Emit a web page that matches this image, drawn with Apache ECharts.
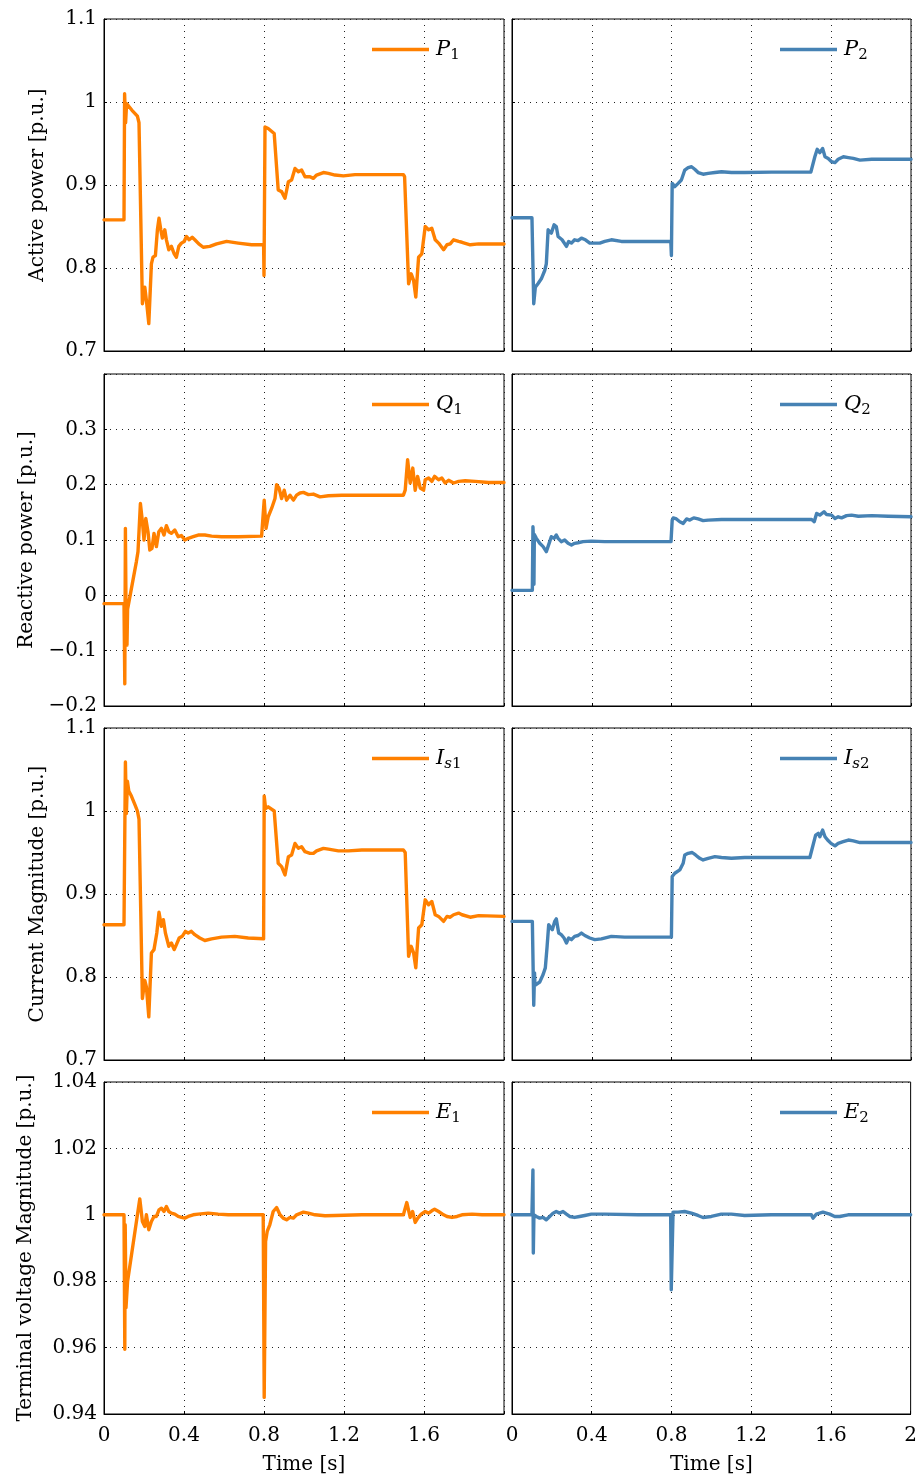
<!DOCTYPE html>
<html><head><meta charset="utf-8">
<script src="https://cdn.jsdelivr.net/npm/echarts@6/dist/echarts.min.js"></script>
<style>html,body{margin:0;padding:0;background:#fff}#c{width:920px;height:1479px}</style>
</head><body><div id="c"></div><script>
// ---- data: [time (s), value (p.u.)] ----
const P1 = [[0,0.858],[0.1,0.858],[0.103,1.01],[0.108,0.975],[0.113,0.998],[0.14,0.99],[0.167,0.983],[0.175,0.975],[0.192,0.757],[0.204,0.777],[0.212,0.761],[0.224,0.733],[0.237,0.805],[0.245,0.813],[0.257,0.815],[0.267,0.846],[0.275,0.860],[0.284,0.846],[0.292,0.836],[0.304,0.846],[0.312,0.834],[0.324,0.822],[0.337,0.826],[0.351,0.817],[0.362,0.813],[0.374,0.826],[0.387,0.830],[0.401,0.832],[0.412,0.838],[0.426,0.834],[0.441,0.837],[0.454,0.834],[0.474,0.829],[0.496,0.825],[0.529,0.826],[0.563,0.829],[0.613,0.832],[0.671,0.830],[0.738,0.828],[0.798,0.828],[0.8,0.791],[0.805,0.970],[0.821,0.968],[0.851,0.962],[0.871,0.894],[0.888,0.892],[0.905,0.884],[0.922,0.904],[0.938,0.906],[0.955,0.920],[0.972,0.916],[0.988,0.918],[1.005,0.910],[1.03,0.910],[1.047,0.908],[1.063,0.912],[1.097,0.915],[1.122,0.914],[1.155,0.912],[1.197,0.911],[1.255,0.9125],[1.497,0.9125],[1.503,0.91],[1.523,0.781],[1.536,0.793],[1.548,0.785],[1.559,0.765],[1.573,0.813],[1.589,0.817],[1.606,0.850],[1.623,0.846],[1.639,0.848],[1.656,0.834],[1.673,0.830],[1.698,0.822],[1.715,0.828],[1.731,0.829],[1.748,0.834],[1.773,0.832],[1.790,0.831],[1.831,0.828],[1.873,0.829],[1.957,0.829],[2.0,0.829]];
const P2 = [[0,0.8606],[0.1,0.8606],[0.103,0.86],[0.109,0.757],[0.117,0.777],[0.13,0.781],[0.147,0.787],[0.164,0.797],[0.172,0.805],[0.181,0.846],[0.189,0.848],[0.197,0.842],[0.211,0.852],[0.222,0.850],[0.231,0.838],[0.239,0.836],[0.251,0.834],[0.261,0.836],[0.273,0.826],[0.284,0.832],[0.298,0.830],[0.314,0.834],[0.331,0.833],[0.348,0.836],[0.368,0.834],[0.390,0.830],[0.415,0.830],[0.440,0.830],[0.465,0.832],[0.498,0.834],[0.548,0.832],[0.632,0.832],[0.796,0.832],[0.799,0.815],[0.803,0.902],[0.816,0.898],[0.833,0.902],[0.849,0.906],[0.866,0.918],[0.883,0.921],[0.900,0.922],[0.916,0.919],[0.933,0.915],[0.958,0.913],[0.983,0.914],[1.017,0.915],[1.050,0.916],[1.100,0.915],[1.167,0.915],[1.301,0.9155],[1.498,0.9155],[1.502,0.916],[1.518,0.934],[1.530,0.943],[1.543,0.939],[1.557,0.944],[1.569,0.934],[1.585,0.932],[1.602,0.928],[1.619,0.927],[1.635,0.931],[1.661,0.934],[1.686,0.933],[1.711,0.932],[1.744,0.930],[1.803,0.931],[1.886,0.931],[2.0,0.931]];
const Q1 = [[0,-0.015],[0.1,-0.015],[0.104,-0.16],[0.107,0.121],[0.110,-0.02],[0.115,-0.09],[0.118,-0.025],[0.120,-0.024],[0.162,0.061],[0.170,0.079],[0.182,0.166],[0.192,0.133],[0.200,0.100],[0.209,0.139],[0.220,0.115],[0.229,0.082],[0.240,0.085],[0.250,0.112],[0.262,0.088],[0.274,0.115],[0.287,0.121],[0.300,0.109],[0.312,0.126],[0.324,0.115],[0.337,0.112],[0.354,0.118],[0.371,0.106],[0.387,0.108],[0.404,0.100],[0.421,0.103],[0.446,0.106],[0.471,0.109],[0.504,0.109],[0.538,0.107],[0.588,0.106],[0.671,0.106],[0.788,0.107],[0.798,0.104],[0.801,0.172],[0.810,0.121],[0.821,0.142],[0.838,0.157],[0.855,0.175],[0.863,0.200],[0.875,0.194],[0.888,0.175],[0.901,0.190],[0.913,0.172],[0.930,0.181],[0.947,0.172],[0.963,0.181],[0.980,0.185],[0.997,0.186],[1.022,0.182],[1.047,0.183],[1.080,0.178],[1.122,0.180],[1.189,0.181],[1.289,0.181],[1.497,0.181],[1.506,0.19],[1.518,0.245],[1.531,0.203],[1.544,0.230],[1.556,0.190],[1.568,0.215],[1.581,0.194],[1.598,0.190],[1.606,0.209],[1.623,0.212],[1.639,0.206],[1.653,0.215],[1.673,0.209],[1.689,0.212],[1.706,0.203],[1.723,0.208],[1.748,0.203],[1.773,0.206],[1.806,0.207],[1.856,0.206],[1.923,0.204],[2.0,0.204]];
const Q2 = [[0,0.009],[0.102,0.009],[0.105,0.124],[0.108,0.10],[0.110,0.02],[0.112,0.11],[0.122,0.103],[0.139,0.094],[0.156,0.088],[0.172,0.079],[0.181,0.076],[0.189,0.097],[0.197,0.106],[0.211,0.103],[0.222,0.109],[0.231,0.103],[0.247,0.097],[0.264,0.100],[0.281,0.094],[0.298,0.091],[0.314,0.094],[0.331,0.095],[0.356,0.097],[0.398,0.098],[0.465,0.097],[0.632,0.097],[0.797,0.097],[0.803,0.136],[0.808,0.140],[0.824,0.138],[0.841,0.133],[0.858,0.130],[0.875,0.138],[0.891,0.136],[0.911,0.140],[0.933,0.138],[0.958,0.135],[0.983,0.136],[1.050,0.137],[1.134,0.137],[1.301,0.137],[1.502,0.137],[1.515,0.133],[1.527,0.148],[1.543,0.145],[1.564,0.151],[1.577,0.146],[1.602,0.145],[1.619,0.139],[1.635,0.142],[1.652,0.140],[1.677,0.144],[1.702,0.145],[1.736,0.143],[1.803,0.144],[1.886,0.143],[2.0,0.142]];
const Is1 = [[0,0.863],[0.1,0.863],[0.107,1.059],[0.112,0.997],[0.117,1.036],[0.124,1.024],[0.137,1.018],[0.154,1.008],[0.167,1.0],[0.175,0.99],[0.192,0.774],[0.204,0.796],[0.212,0.788],[0.224,0.752],[0.237,0.829],[0.250,0.833],[0.264,0.853],[0.275,0.878],[0.287,0.861],[0.297,0.869],[0.307,0.853],[0.324,0.837],[0.337,0.841],[0.351,0.833],[0.362,0.839],[0.376,0.847],[0.391,0.849],[0.407,0.855],[0.421,0.853],[0.437,0.855],[0.454,0.851],[0.479,0.847],[0.504,0.844],[0.538,0.846],[0.588,0.848],[0.654,0.849],[0.721,0.847],[0.798,0.846],[0.801,1.018],[0.808,1.003],[0.821,1.005],[0.851,1.0],[0.871,0.937],[0.888,0.933],[0.905,0.923],[0.922,0.945],[0.938,0.947],[0.955,0.961],[0.972,0.955],[0.988,0.957],[1.005,0.951],[1.030,0.949],[1.047,0.949],[1.063,0.952],[1.097,0.955],[1.122,0.954],[1.172,0.952],[1.222,0.952],[1.289,0.953],[1.497,0.953],[1.506,0.95],[1.523,0.825],[1.536,0.837],[1.548,0.829],[1.559,0.811],[1.573,0.859],[1.589,0.863],[1.606,0.893],[1.623,0.887],[1.639,0.891],[1.656,0.875],[1.673,0.873],[1.698,0.867],[1.715,0.873],[1.731,0.872],[1.748,0.875],[1.773,0.877],[1.790,0.875],[1.831,0.872],[1.873,0.874],[2.0,0.873]];
const Is2 = [[0,0.867],[0.102,0.867],[0.109,0.766],[0.113,0.805],[0.115,0.79],[0.122,0.788],[0.139,0.794],[0.156,0.803],[0.167,0.811],[0.176,0.837],[0.184,0.863],[0.194,0.861],[0.202,0.857],[0.214,0.867],[0.222,0.870],[0.234,0.853],[0.247,0.851],[0.261,0.847],[0.273,0.841],[0.284,0.847],[0.298,0.845],[0.314,0.849],[0.331,0.850],[0.348,0.853],[0.365,0.850],[0.390,0.847],[0.415,0.845],[0.448,0.846],[0.498,0.849],[0.565,0.848],[0.666,0.848],[0.799,0.848],[0.803,0.921],[0.816,0.925],[0.841,0.929],[0.858,0.937],[0.866,0.947],[0.883,0.949],[0.903,0.950],[0.920,0.947],[0.941,0.943],[0.958,0.941],[0.983,0.943],[1.017,0.945],[1.050,0.944],[1.100,0.943],[1.167,0.944],[1.301,0.944],[1.493,0.944],[1.502,0.946],[1.522,0.971],[1.535,0.973],[1.543,0.969],[1.557,0.977],[1.569,0.969],[1.582,0.965],[1.599,0.961],[1.619,0.958],[1.635,0.961],[1.660,0.963],[1.686,0.965],[1.711,0.964],[1.744,0.962],[1.803,0.962],[2.0,0.962]];
const E1 = [[0,1.0],[0.1,1.0],[0.104,0.9595],[0.106,0.997],[0.11,0.972],[0.118,0.98],[0.179,1.0048],[0.192,0.998],[0.204,0.9965],[0.212,1.0],[0.224,0.9955],[0.237,0.998],[0.25,0.9995],[0.262,0.9995],[0.275,1.0015],[0.287,1.002],[0.300,1.001],[0.312,1.0025],[0.324,1.001],[0.337,1.0005],[0.354,1.0002],[0.371,0.9995],[0.387,0.9992],[0.404,0.999],[0.421,0.9995],[0.446,1.0],[0.471,1.0002],[0.521,1.0005],[0.571,1.0002],[0.621,1.0],[0.796,1.0],[0.801,0.945],[0.808,0.992],[0.816,0.995],[0.829,0.997],[0.846,1.001],[0.863,1.0022],[0.880,1.0],[0.896,0.999],[0.913,0.9985],[0.930,0.9992],[0.947,0.999],[0.963,1.0],[0.997,1.0008],[1.022,1.0005],[1.055,1.0],[1.105,0.9997],[1.155,0.9998],[1.289,1.0],[1.497,1.0],[1.514,1.0037],[1.531,0.9992],[1.543,1.001],[1.556,0.9977],[1.569,0.999],[1.586,1.0002],[1.606,1.001],[1.623,1.0005],[1.639,1.0012],[1.653,1.0017],[1.673,1.001],[1.698,1.0],[1.715,0.9995],[1.740,0.9992],[1.765,0.9995],[1.790,1.0],[1.840,1.0002],[1.890,1.0],[2.0,1.0]];
const E2 = [[0,1.0],[0.1,1.0],[0.105,1.0135],[0.107,0.9885],[0.110,1.0],[0.122,0.9995],[0.139,0.999],[0.156,0.9992],[0.172,0.9985],[0.189,0.9995],[0.206,1.0005],[0.222,1.001],[0.239,1.0005],[0.256,1.001],[0.273,1.0002],[0.289,0.9995],[0.314,0.9992],[0.339,0.9995],[0.365,0.9998],[0.398,1.0002],[0.465,1.0002],[0.632,1.0],[0.796,1.0],[0.799,0.9774],[0.808,1.0008],[0.833,1.0008],[0.866,1.001],[0.900,1.0005],[0.933,0.9998],[0.958,0.9992],[1.000,0.9995],[1.050,1.0002],[1.100,1.0002],[1.167,0.9998],[1.301,1.0],[1.502,1.0],[1.510,0.999],[1.527,1.0002],[1.560,1.0008],[1.594,1.0002],[1.619,0.9995],[1.644,0.9995],[1.686,1.0],[2.0,1.0]];

const seriesNames = ['P1','P2','Q1','Q2','Is1','Is2','E1','E2'];
const seriesData = [P1,P2,Q1,Q2,Is1,Is2,E1,E2];
const legendLabels = ['{m|P}{s|1}','{m|P}{s|2}','{m|Q}{s|1}','{m|Q}{s|2}','{m|I}{si|s}{s|1}','{m|I}{si|s}{s|2}','{m|E}{s|1}','{m|E}{s|2}'];
const yTitles = ['Active power [p.u.]','Reactive power [p.u.]','Current Magnitude [p.u.]','Terminal voltage Magnitude [p.u.]'];
const yMin = [0.7, -0.2, 0.7, 0.94];
const yMax = [1.1, 0.4, 1.1, 1.04];
const yStep = [0.1, 0.1, 0.1, 0.02];
const yHiddenLabels = [[], [0.4], [], []];
const xMin = 0, xMax = 2, xStep = 0.4;
const xTitle = 'Time [s]';

// ---- layout ----
const colLeft = [104, 512], colWidth = [400, 399];
const rowTop = [19, 374, 728, 1082], rowH = 332;
const nameGaps = [56, 67, 56, 68];
const colors = ['#ff8000', '#4682b4'];
const FONT = 'DejaVu Serif';
const FS = 20;

function fmt(v){ const r = +(+v).toFixed(3); return (r < 0 ? '\u2212' : '') + String(Math.abs(r)); }

const grid = [], xAxis = [], yAxis = [], series = [], legend = [];
for (let r = 0; r < 4; r++) {
  for (let c = 0; c < 2; c++) {
    const i = r*2 + c;
    grid.push({left: colLeft[c], top: rowTop[r], width: colWidth[c], height: rowH, show: true, borderColor: '#000', borderWidth: 1, backgroundColor: 'transparent'});
    const bottom = r === 3;
    xAxis.push({
      gridIndex: i, type: 'value', min: xMin, max: xMax, interval: xStep,
      axisLine: {show: true, onZero: false, lineStyle: {color: '#000', width: 1}},
      axisTick: {show: true, inside: true, length: 3, lineStyle: {color: '#000'}},
      axisLabel: {show: bottom, color: '#000', fontFamily: FONT, fontSize: FS, margin: 12,
        formatter: v => (c === 0 && v > xMax - 0.01) ? '' : fmt(v)},
      splitLine: {show: true, lineStyle: {color: '#222', width: 1, type: [1, 5]}},
      name: bottom ? xTitle : '', nameLocation: 'middle', nameGap: 41,
      nameTextStyle: {color: '#000', fontFamily: FONT, fontSize: FS}
    });
    yAxis.push({
      gridIndex: i, type: 'value', min: yMin[r], max: yMax[r], interval: yStep[r],
      axisLine: {show: true, onZero: false, lineStyle: {color: '#000', width: 1}},
      axisTick: {show: true, inside: true, length: 3, lineStyle: {color: '#000'}},
      axisLabel: {show: c === 0, color: '#000', fontFamily: FONT, fontSize: FS, margin: 7,
        formatter: v => yHiddenLabels[r].some(h => Math.abs(h - v) < 1e-6) ? '' : fmt(v)},
      splitLine: {show: true, lineStyle: {color: '#222', width: 1, type: [1, 5]}},
      name: c === 0 ? yTitles[r] : '', nameLocation: 'middle', nameGap: nameGaps[r], nameRotate: 90,
      nameTextStyle: {color: '#000', fontFamily: FONT, fontSize: FS}
    });
    series.push({
      name: seriesNames[i], type: 'line', xAxisIndex: i, yAxisIndex: i,
      data: seriesData[i], showSymbol: false, symbol: 'none', animation: false,
      color: colors[c],
      lineStyle: {color: colors[c], width: 3.4, join: 'round', cap: 'round'}
    });
    legend.push({
      data: [seriesNames[i]], left: c === 0 ? 372 : 780, top: rowTop[r] + 33 - 13,
      padding: 0, itemWidth: 57, itemHeight: 3.5, icon: 'rect', itemGap: 0,
      selectedMode: false,
      formatter: () => legendLabels[i],
      textStyle: {
        padding: [0, 0, 0, 2],
        rich: {
          m: {fontFamily: FONT, fontStyle: 'italic', fontSize: 21, lineHeight: 26, verticalAlign: 'middle', color: '#000'},
          si: {fontFamily: FONT, fontStyle: 'italic', fontSize: 15, lineHeight: 16, verticalAlign: 'bottom', color: '#000'},
          s: {fontFamily: FONT, fontSize: 15, lineHeight: 16, verticalAlign: 'bottom', color: '#000'}
        }
      }
    });
  }
}

const chart = echarts.init(document.getElementById('c'), null, {renderer: 'canvas'});
chart.setOption({animation: false, backgroundColor: '#fff', grid, xAxis, yAxis, series, legend});
</script></body></html>
